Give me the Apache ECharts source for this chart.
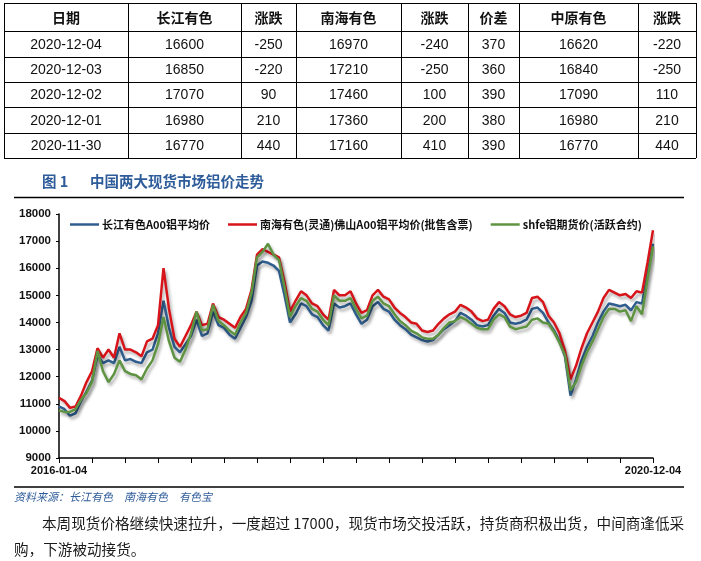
<!DOCTYPE html>
<html>
<head>
<meta charset="utf-8">
<script src="https://cdn.jsdelivr.net/npm/echarts@6/dist/echarts.min.js"></script>
<style>
    html, body { margin: 0; padding: 0; background: #fff; }
    #main { width: 701px; height: 561px; }
</style>
</head>
<body>
<div id="main"></div>
<script>
// 表格数据
const tableHeader = ['日期', '长江有色', '涨跌', '南海有色', '涨跌', '价差', '中原有色', '涨跌'];
const tableDates = ['2020-12-04', '2020-12-03', '2020-12-02', '2020-12-01', '2020-11-30'];
const cjPrice = [16600, 16850, 17070, 16980, 16770];
const cjChange = [-250, -220, 90, 210, 440];
const nhPrice = [16970, 17210, 17460, 17360, 17160];
const nhChange = [-240, -250, 100, 200, 410];
const priceGap = [370, 360, 390, 380, 390];
const zyPrice = [16620, 16840, 17090, 16980, 16770];
const zyChange = [-220, -250, 110, 210, 440];

// 走势图数据 (2016-01-04 ~ 2020-12-04, 按图读取)
const seriesNames = ['长江有色A00铝平均价', '南海有色(灵通)佛山A00铝平均价(批售含票)', 'shfe铝期货价(活跃合约)'];
const startLabel = '2016-01-04';
const endLabel = '2020-12-04';
const cjA00 = [
    10900, 10800, 10560, 10650, 11100, 11450, 11850, 12800, 12500, 12600,
    12500, 13100, 12600, 12650, 12550, 12500, 12900, 13000, 13600, 14800,
    13800, 13100, 12900, 13200, 13500, 14100, 13500, 13600, 14400, 13900,
    13800, 13550, 13400, 13800, 14200, 14800, 16100, 16250, 16200, 16100,
    15900, 15000, 14000, 14300, 14700, 14600, 14300, 14200, 13900, 13700,
    14700, 14550, 14600, 14700, 14300, 13950, 14100, 14600, 14750, 14500,
    14400, 14100, 13900, 13750, 13550, 13450, 13350, 13300, 13350, 13550,
    13750, 13900, 14050, 14350, 14250, 14100, 13900, 13850, 13900, 14250,
    14500, 14350, 14000, 13950, 14000, 14100, 14500, 14550, 14350, 14000,
    13700, 13300, 12750, 11300, 11900, 12600, 13100, 13500, 14000, 14400,
    14700, 14650, 14600, 14650, 14450, 14750, 14700, 15800, 16900
];
const nhA00 = [
    11220, 11100, 10850, 10900, 11300, 11800, 12200, 13050, 12700, 13000,
    12700, 13600, 13000, 13000, 12900, 12750, 13300, 13400, 13900, 16000,
    14500, 13400, 13100, 13500, 13900, 14400, 13900, 13950, 14700, 14200,
    14100, 13950, 13800, 14200, 14500, 15200, 16500, 16700, 16600, 16500,
    16400, 15500, 14400, 14800, 15150, 15000, 14700, 14600, 14300, 14100,
    15200, 15000, 15000, 15150, 14700, 14350, 14450, 15000, 15200, 14950,
    14850, 14550, 14350, 14200, 14000, 13950, 13700, 13650, 13700, 13950,
    14150, 14300, 14400, 14650, 14550, 14400, 14150, 14050, 14100, 14500,
    14750, 14600, 14300, 14200, 14250, 14350, 14900, 14950, 14750, 14250,
    14000, 13600, 12950, 11900, 12400, 13050, 13600, 14000, 14400, 14900,
    15200, 15100, 15000, 15050, 14900, 15150, 15100, 16200, 17400
];
const shfeAl = [
    10750, 10700, 10700, 10800, 11150, 11400, 11800, 12950, 12200, 11800,
    12100, 12600, 12200, 12100, 12050, 11900, 12300, 12600, 13200, 14200,
    13300, 12700, 12550, 13000, 13600, 14400, 13700, 13750, 14650, 14050,
    13900, 13700, 13550, 14000, 14350, 15100, 16400, 16600, 16900, 16500,
    16300, 15300, 14200, 14600, 14900, 14800, 14500, 14400, 14100, 13900,
    15000, 14800, 14800, 14900, 14500, 14150, 14250, 14800, 14950, 14700,
    14600, 14300, 14050, 13900, 13700, 13600, 13450, 13400, 13400, 13550,
    13800, 14000, 14050, 14200, 14100, 13950, 13800, 13750, 13750, 14100,
    14300, 14200, 13850, 13750, 13800, 13850, 14100, 14150, 14000, 13950,
    13650, 13250, 12800, 11500, 11800, 12400, 12900, 13300, 13750, 14200,
    14500, 14500, 14400, 14450, 14050, 14600, 14300, 15600, 16800
];

const lastIdx = cjA00.length - 1;
const categories = cjA00.map((v, i) => i === 0 ? startLabel : (i === lastIdx ? endLabel : String(i)));

const numFont = "'Liberation Sans', 'Noto Sans CJK SC', sans-serif";
const cjkFont = "'Noto Sans CJK SC', 'Liberation Sans', sans-serif";

// 表格布局
const colEdges = [4, 128, 241, 296, 401, 468, 519, 638, 696];
const rowEdges = [3, 31, 57, 82, 107, 133, 158];

function buildTable() {
    let items = [];
    colEdges.forEach(x => {
        items.push({
            type: 'line',
            shape: { x1: x + 0.5, y1: rowEdges[0], x2: x + 0.5, y2: rowEdges[rowEdges.length - 1] },
            style: { stroke: '#000', lineWidth: 1 }
        });
    });
    rowEdges.forEach(y => {
        items.push({
            type: 'line',
            shape: { x1: colEdges[0], y1: y + 0.5, x2: colEdges[colEdges.length - 1], y2: y + 0.5 },
            style: { stroke: '#000', lineWidth: 1 }
        });
    });
    let rows = [tableHeader];
    for (let i = 0; i < tableDates.length; i++) {
        rows.push([tableDates[i], cjPrice[i], cjChange[i], nhPrice[i], nhChange[i], priceGap[i], zyPrice[i], zyChange[i]]);
    }
    rows.forEach((row, r) => {
        row.forEach((cell, c) => {
            items.push({
                type: 'text',
                x: (colEdges[c] + colEdges[c + 1]) / 2,
                y: (rowEdges[r] + rowEdges[r + 1]) / 2 + 1,
                style: {
                    text: String(cell),
                    fill: '#111',
                    fontSize: 14,
                    fontWeight: r === 0 ? 'bold' : 'normal',
                    fontFamily: r === 0 ? cjkFont : numFont,
                    textAlign: 'center',
                    textVerticalAlign: 'middle',
                    align: 'center',
                    verticalAlign: 'middle'
                }
            });
        });
    });
    return items;
}

function textItem(x, y, text, opts) {
    return {
        type: 'text',
        x: x,
        y: y,
        style: Object.assign({
            text: text,
            textAlign: 'left',
            textVerticalAlign: 'middle',
            align: 'left',
            verticalAlign: 'middle'
        }, opts)
    };
}

let graphics = buildTable();
graphics.push(textItem(42, 181, '图 1', { fill: '#2E5C9A', fontSize: 14.5, fontWeight: 'bold', fontFamily: cjkFont }));
graphics.push(textItem(90, 181, '中国两大现货市场铝价走势', { fill: '#2E5C9A', fontSize: 14.5, fontWeight: 'bold', fontFamily: cjkFont }));
graphics.push({ type: 'line', shape: { x1: 14, y1: 197.5, x2: 684, y2: 197.5 }, style: { stroke: '#000', lineWidth: 1.5 } });
graphics.push({ type: 'line', shape: { x1: 14, y1: 487, x2: 684, y2: 487 }, style: { stroke: '#000', lineWidth: 1.5 } });
graphics.push(textItem(14, 497, '资料来源：长江有色　南海有色　有色宝', { fill: '#2E5C9A', fontSize: 11, fontStyle: 'italic', fontFamily: cjkFont }));
graphics.push(textItem(42, 523, '本周现货价格继续快速拉升，一度超过 17000，现货市场交投活跃，持货商积极出货，中间商逢低采', { fill: '#1a1a1a', fontSize: 14.6, fontFamily: cjkFont }));
graphics.push(textItem(14, 549, '购，下游被动接货。', { fill: '#1a1a1a', fontSize: 14.6, fontFamily: cjkFont }));

const colors = ['#2F5E8E', '#D7141A', '#5E9441'];
const seriesData = [cjA00, nhA00, shfeAl];

let chart = echarts.init(document.getElementById('main'), null, { renderer: 'canvas' });

let option = {
    backgroundColor: '#fff',
    animation: false,
    color: colors,
    grid: {
        left: 59,
        right: 48,
        top: 214,
        bottom: 103,
        containLabel: false,
        outerBoundsMode: 'none'
    },
    legend: {
        data: seriesNames,
        left: 65,
        top: 214,
        icon: 'rect',
        itemWidth: 29,
        itemHeight: 2.5,
        itemGap: 18,
        textStyle: {
            color: '#111',
            fontSize: 11,
            fontWeight: 'bold',
            fontFamily: cjkFont,
            padding: [0, 0, 0, -2]
        }
    },
    xAxis: {
        type: 'category',
        boundaryGap: false,
        data: categories,
        axisLine: { lineStyle: { color: '#000', width: 1.5 } },
        axisTick: { show: true, interval: 5, length: 5, lineStyle: { color: '#000', width: 1 } },
        axisLabel: {
            interval: function (idx) { return idx === 0 || idx === lastIdx; },
            color: '#111',
            fontSize: 11,
            fontWeight: 'bold',
            fontFamily: numFont,
            margin: 7,
            showMinLabel: true,
            showMaxLabel: true
        },
        splitLine: { show: false }
    },
    yAxis: {
        type: 'value',
        min: 9000,
        max: 18000,
        interval: 1000,
        axisLine: { show: true, lineStyle: { color: '#000', width: 1.5 } },
        axisTick: { show: true, length: 3, lineStyle: { color: '#000' } },
        axisLabel: {
            color: '#111',
            fontSize: 11.5,
            fontWeight: 'bold',
            fontFamily: numFont,
            margin: 8,
            formatter: function (v) { return String(v); }
        },
        splitLine: { show: false }
    },
    series: seriesData.map((d, i) => ({
        name: seriesNames[i],
        type: 'line',
        data: d,
        symbol: 'none',
        showSymbol: false,
        z: 2 + i,
        itemStyle: { color: colors[i] },
        lineStyle: {
            width: 2.5,
            color: colors[i],
            shadowColor: 'rgba(0,0,0,0.3)',
            shadowBlur: 3,
            shadowOffsetX: 2,
            shadowOffsetY: 3
        }
    })),
    graphic: graphics
};

chart.setOption(option);
</script>
</body>
</html>
